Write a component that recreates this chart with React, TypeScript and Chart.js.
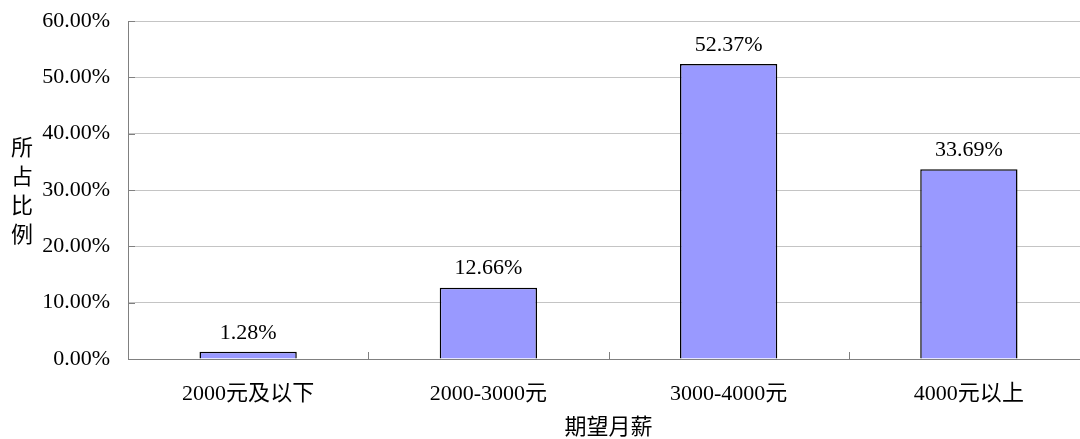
import React, { useEffect, useRef } from "react";
import { Chart, registerables } from "chart.js";

Chart.register(...registerables);

const categories = ["2000元及以下", "2000-3000元", "3000-4000元", "4000元以上"];
const shares = [1.28, 12.66, 52.37, 33.69];
const yTickValues = [0, 10, 20, 30, 40, 50, 60];
const yTitleChars = ["所", "占", "比", "例"];
const xTitle = "期望月薪";

const FONT = "'Liberation Serif', 'Noto Sans CJK SC', serif";
const AXIS = "#808080";
const GRID = "#c4c4c4";

const decor = {
  id: "decor",
  afterDatasetsDraw(chart: any) {
    const ctx = chart.ctx;
    const area = chart.chartArea;
    const y = chart.scales.y;
    ctx.save();
    ctx.strokeStyle = AXIS;
    ctx.lineWidth = 1;
    yTickValues.forEach((v) => {
      const py = Math.round(y.getPixelForValue(v)) + 0.5;
      ctx.beginPath();
      ctx.moveTo(area.left, py);
      ctx.lineTo(area.left + 7, py);
      ctx.stroke();
    });
    const cw = (area.right - area.left) / categories.length;
    for (let i = 0; i <= categories.length; i++) {
      const px = Math.round(area.left + i * cw) + 0.5;
      ctx.beginPath();
      ctx.moveTo(px, area.bottom);
      ctx.lineTo(px, area.bottom - 7);
      ctx.stroke();
    }
    ctx.fillStyle = "#000";
    ctx.font = `22px ${FONT}`;
    ctx.textAlign = "center";
    ctx.textBaseline = "middle";
    const meta = chart.getDatasetMeta(0);
    meta.data.forEach((el: any, i: number) => {
      ctx.fillText(`${shares[i].toFixed(2)}%`, el.x, el.y - 19);
    });
    ctx.fillText(xTitle, (area.left + area.right) / 2, 428);
    yTitleChars.forEach((c, i) => {
      ctx.fillText(c, 22, 149 + i * 29);
    });
    ctx.restore();
  },
};

export default function App() {
  const ref = useRef<HTMLCanvasElement | null>(null);
  useEffect(() => {
    if (!ref.current) return;
    const chart = new Chart(ref.current, {
      type: "bar",
      data: {
        labels: categories,
        datasets: [
          {
            data: shares,
            backgroundColor: "#9999FF",
            borderColor: "#000000",
            borderWidth: 1.5,
            categoryPercentage: 1,
            barPercentage: 0.405,
          },
        ],
      },
      options: {
        animation: false,
        responsive: true,
        maintainAspectRatio: false,
        layout: { padding: { top: 21, right: 1, left: 0, bottom: 0 } },
        plugins: {
          legend: { display: false },
          tooltip: { enabled: false },
        },
        scales: {
          x: {
            grid: { display: true, drawOnChartArea: false, drawTicks: false },
            border: { display: true, color: AXIS, width: 1 },
            ticks: {
              color: "#000",
              font: { family: FONT, size: 22 },
              padding: 22,
              maxRotation: 0,
              autoSkip: false,
            },
            afterFit: (s: any) => {
              s.height = 80;
              s.paddingLeft = 0;
              s.paddingRight = 0;
            },
          },
          y: {
            min: 0,
            max: 60,
            grid: {
              color: (c: any) => (c.tick && c.tick.value === 0 ? AXIS : GRID),
              drawTicks: false,
              lineWidth: 1,
            },
            border: { display: true, color: AXIS, width: 1 },
            ticks: {
              stepSize: 10,
              color: "#000",
              font: { family: FONT, size: 22 },
              padding: 18,
              callback: (v: any) => `${Number(v).toFixed(2)}%`,
            },
            afterFit: (s: any) => {
              s.width = 128;
              s.paddingTop = 0;
              s.paddingBottom = 0;
            },
          },
        },
      },
      plugins: [decor],
    });
    return () => chart.destroy();
  }, []);

  return (
    <div
      style={{
        position: "fixed",
        left: 0,
        top: 0,
        width: 1080,
        height: 439,
        overflow: "hidden",
        background: "#fff",
      }}
    >
      <div style={{ position: "relative", width: 1090, height: 439 }}>
        <canvas ref={ref} />
      </div>
    </div>
  );
}
